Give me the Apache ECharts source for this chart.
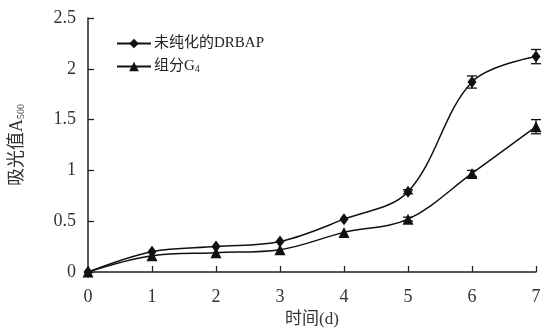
<!DOCTYPE html>
<html><head><meta charset="utf-8">
<script src="https://cdn.jsdelivr.net/npm/echarts@6/dist/echarts.min.js"></script>
<style>html,body{margin:0;padding:0;background:#fff}#c{width:546px;height:333px}</style>
</head><body><div id="c"></div>
<script>
const days = [0, 1, 2, 3, 4, 5, 6, 7];
const unpurified = [0, 0.20, 0.25, 0.30, 0.52, 0.79, 1.87, 2.12];
const g4 = [0, 0.16, 0.19, 0.22, 0.39, 0.52, 0.97, 1.43];
const unpurifiedErr = [0, 0, 0, 0, 0, 0.02, 0.06, 0.07];
const g4Err = [0, 0, 0, 0, 0, 0.02, 0.03, 0.07];
const yTicks = [0, 0.5, 1, 1.5, 2, 2.5];
const names = ['未纯化的DRBAP', '组分G4'];

const fontSerif = '"Liberation Serif", "Noto Sans CJK SC", serif';
const chart = echarts.init(document.getElementById('c'));

function errSeries(vals, errs) {
  return {
    type: 'custom',
    silent: true,
    z: 5,
    data: days.map((d, i) => [d, vals[i], errs[i]]).filter(r => r[2] > 0),
    renderItem: function (params, api) {
      const x = api.value(0), y = api.value(1), e = api.value(2);
      const top = api.coord([x, y + e]);
      const bot = api.coord([x, y - e]);
      const w = 5;
      const st = { stroke: '#111', lineWidth: 1.3 };
      return {
        type: 'group',
        children: [
          { type: 'line', shape: { x1: top[0], y1: top[1], x2: bot[0], y2: bot[1] }, style: st },
          { type: 'line', shape: { x1: top[0] - w, y1: top[1], x2: top[0] + w, y2: top[1] }, style: st },
          { type: 'line', shape: { x1: bot[0] - w, y1: bot[1], x2: bot[0] + w, y2: bot[1] }, style: st }
        ]
      };
    }
  };
}

chart.setOption({
  animation: false,
  backgroundColor: '#fff',
  grid: { left: 88, right: 10, top: 18, bottom: 59, containLabel: false },
  legend: {
    left: 111, top: 31, orient: 'vertical', itemGap: 8,
    itemWidth: 34, itemHeight: 12,
    data: names.map(n => ({ name: n })),
    formatter: n => n === '组分G4' ? '组分G{sub|4}' : n,
    textStyle: {
      fontFamily: fontSerif, fontSize: 15, color: '#222', padding: [0, 0, 0, -2],
      rich: { sub: { fontSize: 10, verticalAlign: 'bottom', padding: [6, 0, 0, 0], fontFamily: fontSerif, color: '#222' } }
    }
  },
  xAxis: {
    type: 'value', min: 0, max: 7, interval: 1,
    name: '时间(d)', nameLocation: 'middle', nameGap: 39,
    nameTextStyle: { fontFamily: fontSerif, fontSize: 17, color: '#333' },
    axisLine: { lineStyle: { color: '#222', width: 1.5 } },
    axisTick: { inside: true, length: 6, lineStyle: { color: '#222', width: 1.3 } },
    axisLabel: { fontFamily: fontSerif, fontSize: 18, color: '#333', margin: 16 },
    splitLine: { show: false }
  },
  yAxis: {
    type: 'value', min: 0, max: 2.5, interval: 0.5,
    name: '吸光值A{sub|500}', nameLocation: 'middle', nameGap: 62, nameRotate: 90,
    nameTextStyle: {
      fontFamily: fontSerif, fontSize: 18, color: '#333',
      rich: { sub: { fontSize: 10, fontFamily: fontSerif, color: '#333', verticalAlign: 'bottom', padding: [6, 0, 0, 0] } }
    },
    axisLine: { show: true, lineStyle: { color: '#222', width: 1.5 } },
    axisTick: { show: true, inside: true, length: 6, lineStyle: { color: '#222', width: 1.3 } },
    axisLabel: { fontFamily: fontSerif, fontSize: 18, color: '#333', margin: 12,
      formatter: v => yTicks.includes(v) ? String(v) : '' },
    splitLine: { show: false }
  },
  series: [
    {
      name: names[0], type: 'line', smooth: 0.35,
      data: days.map((d, i) => [d, unpurified[i]]),
      symbol: 'diamond', symbolSize: [9, 12],
      lineStyle: { color: '#111', width: 1.5 },
      itemStyle: { color: '#111' }, z: 3
    },
    {
      name: names[1], type: 'line', smooth: 0.35,
      data: days.map((d, i) => [d, g4[i]]),
      symbol: 'triangle', symbolSize: [11, 11],
      lineStyle: { color: '#111', width: 1.5 },
      itemStyle: { color: '#111' }, z: 3
    },
    errSeries(unpurified, unpurifiedErr),
    errSeries(g4, g4Err)
  ]
});
</script></body></html>
